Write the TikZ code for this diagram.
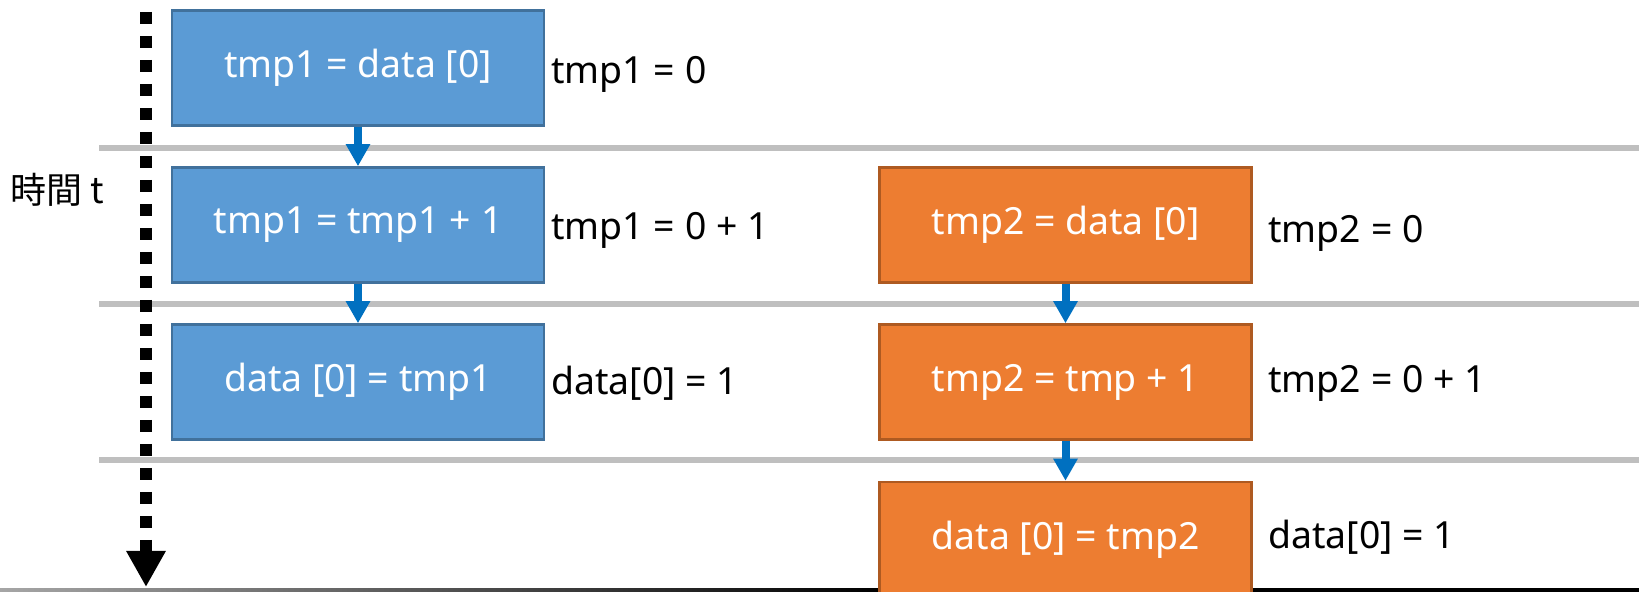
\documentclass[tikz,border=0pt]{standalone}
\usepackage{fontspec}
\setmainfont{Noto Sans}
\newfontfamily\jpfont{Noto Sans CJK JP}
\usetikzlibrary{arrows.meta,positioning}

\definecolor{opblue}{HTML}{5B9BD5}
\definecolor{opblueedge}{HTML}{41719C}
\definecolor{oporange}{HTML}{ED7D31}
\definecolor{oporangeedge}{HTML}{AE5A21}
\definecolor{flowblue}{HTML}{0070C0}
\definecolor{stepgray}{HTML}{BFBFBF}

\begin{document}
\begin{tikzpicture}[x=0.5pt, y=-0.5pt,
  opbox/.style={line width=1.25pt, minimum width=186pt, minimum height=57.5pt,
    inner sep=0pt, text=white, font=\fontsize{18.7}{22}\selectfont},
  threadA/.style={opbox, draw=opblueedge, fill=opblue},
  threadB/.style={opbox, draw=oporangeedge, fill=oporange},
  val/.style={anchor=base west, inner sep=0pt, font=\fontsize{18.7}{22}\selectfont},
  flow/.style={draw=flowblue, line width=4pt, -{Triangle[width=11.5pt,length=11pt]}}]
\useasboundingbox (0,0) rectangle (1639,592);
\clip (0,0) rectangle (1639,592);

% Step separators
\draw[stepgray, line width=3pt] (99,148.5) -- (1639,148.5);
\draw[stepgray, line width=3pt] (99,304) -- (1639,304);
\draw[stepgray, line width=3pt] (99,460) -- (1639,460);

% Bottom rule
\shade[left color=black!35, right color=black] (0,588.5) rectangle (880,592);
\fill[black] (880,588.5) rectangle (1639,592);

% Time axis
\coordinate (tstart) at (146,12);
\coordinate (tend) at (146,587);
\draw[line width=6pt, dash pattern=on 6pt off 6pt,
  -{Triangle[width=18.5pt,length=18pt]}] (tstart) -- (tend);
\node[anchor=west, inner sep=0pt, font=\jpfont\fontsize{18}{21}\selectfont] (tlabel) at (10,190) {時間 t};

% Thread 1
\node[threadA] (a1) at (358,68) {tmp1 = data [0]};
\node[threadA] (a2) at (358,225) {tmp1 = tmp1 + 1};
\node[threadA] (a3) at (358,382) {data [0] = tmp1};
\node[val] (va1) at (551,83.5) {tmp1 = 0};
\node[val] (va2) at (551,239.5) {tmp1 = 0 + 1};
\node[val] (va3) at (551,395) {data[0] = 1};

% Thread 2
\node[threadB] (b1) at (1065.5,225) {tmp2 = data [0]};
\node[threadB] (b2) at (1065.5,382) {tmp2 = tmp + 1};
\node[threadB] (b3) at (1065.5,539.5) {data [0] = tmp2};
\node[val] (vb1) at (1268,242.5) {tmp2 = 0};
\node[val] (vb2) at (1268,392.5) {tmp2 = 0 + 1};
\node[val] (vb3) at (1268,548.5) {data[0] = 1};

% Order of operations
\draw[flow] (a1.south) -- (a2.north);
\draw[flow] (a2.south) -- (a3.north);
\draw[flow] (b1.south) -- (b2.north);
\draw[flow] (b2.south) -- (b3.north);
\end{tikzpicture}
\end{document}
